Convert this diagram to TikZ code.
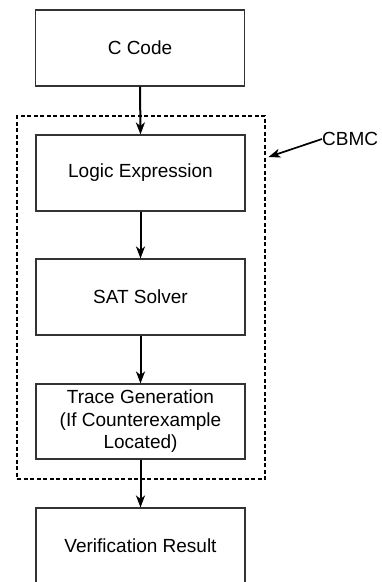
\documentclass[tikz,border=0pt]{standalone}
\usepackage{fontspec}
\setmainfont{Liberation Sans}
\usetikzlibrary{arrows.meta}
\begin{document}
\begin{tikzpicture}[x=1pt,y=-1pt,
  stepbox/.style={draw=black!80, line width=1.1pt, rectangle, minimum width=209pt, minimum height=76pt, inner sep=0pt, align=center, font=\fontsize{19}{22.5}\selectfont},
  flow/.style={-{Stealth[length=12pt,width=9pt,inset=3.5pt]}, line width=2pt}]
\useasboundingbox (0,0) rectangle (382,582);
\clip (0,0) rectangle (382,582);
\node[draw=black, dashed, dash pattern=on 4pt off 2.5pt, line width=1.3pt, minimum width=248pt, minimum height=363pt, inner sep=0pt] (cbmcbox) at (141,297.5) {};
\node[stepbox] (ccode) at (140,48) {C Code};
\node[stepbox] (logic) at (140.5,173) {Logic Expression};
\node[stepbox] (sat) at (140.5,297) {SAT Solver};
\node[stepbox, minimum height=75pt] (trace) at (140.5,421.5) {Trace Generation\\(If Counterexample\\Located)};
\node[stepbox] (verif) at (140.5,546) {Verification Result};
\node[anchor=west, inner sep=0pt, font=\fontsize{19}{22.5}\selectfont] (cbmc) at (322,139) {CBMC};
\coordinate (cbmctip) at (268.5,157);
\draw[flow] (ccode.south) -- (logic.north);
\draw[flow] (logic.south) -- (sat.north);
\draw[flow] (sat.south) -- (trace.north);
\draw[flow] (trace.south) -- (verif.north);
\draw[flow, line width=1.7pt] (cbmc.west) -- (cbmctip);
\end{tikzpicture}
\end{document}
